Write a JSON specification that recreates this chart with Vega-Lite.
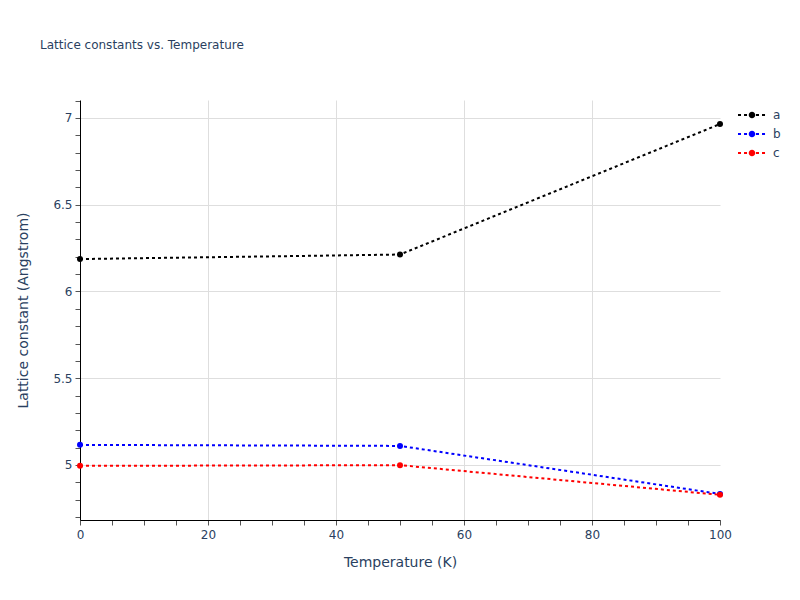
{
  "$schema": "https://vega.github.io/schema/vega-lite/v6.json",
  "autosize": "none",
  "width": 640,
  "height": 420,
  "padding": {"left": 80, "top": 100, "right": 80, "bottom": 80},
  "background": "white",
  "title": {
    "text": "Lattice constants vs. Temperature",
    "anchor": "start",
    "frame": "group",
    "dx": -40,
    "offset": 43,
    "font": "DejaVu Sans",
    "fontSize": 12,
    "fontWeight": "normal",
    "color": "#2a3f5f"
  },
  "config": {
    "view": {"stroke": null},
    "font": "DejaVu Sans"
  },
  "data": {
    "values": [
      {"series": "a", "T": 0, "v": 6.187},
      {"series": "a", "T": 50, "v": 6.213},
      {"series": "a", "T": 100, "v": 6.965},
      {"series": "b", "T": 0, "v": 5.116},
      {"series": "b", "T": 50, "v": 5.11},
      {"series": "b", "T": 100, "v": 4.833},
      {"series": "c", "T": 0, "v": 4.995},
      {"series": "c", "T": 50, "v": 4.999},
      {"series": "c", "T": 100, "v": 4.828}
    ]
  },
  "encoding": {
    "x": {
      "field": "T", "type": "quantitative",
      "scale": {"domain": [0, 100], "nice": false, "zero": false},
      "axis": {
        "title": "Temperature (K)",
        "values": [0,5,10,15,20,25,30,35,40,45,50,55,60,65,70,75,80,85,90,95,100],
        "labelExpr": "datum.value % 20 === 0 ? datum.label : ''",
        "labelOverlap": false,
        "labelFlush": false,
        "grid": true,
        "gridColor": {"condition": {"test": "datum.value % 20 === 0 && datum.value > 0 && datum.value < 100", "value": "#dedede"}, "value": "transparent"},
        "gridWidth": 1,
        "domainColor": "#000000",
        "domainWidth": 1,
        "tickColor": "#555555",
        "tickSize": 5,
        "labelPadding": 4,
        "labelFont": "DejaVu Sans",
        "labelFontSize": 12,
        "labelColor": "#2a3f5f",
        "titleFont": "DejaVu Sans",
        "titleFontSize": 14,
        "titleFontWeight": "normal",
        "titleColor": "#2a3f5f",
        "titlePadding": 15
      }
    },
    "y": {
      "field": "v", "type": "quantitative",
      "scale": {"domain": [4.683, 7.1037], "nice": false, "zero": false},
      "axis": {
        "title": "Lattice constant (Angstrom)",
        "values": [4.7,4.8,4.9,5.0,5.1,5.2,5.3,5.4,5.5,5.6,5.7,5.8,5.9,6.0,6.1,6.2,6.3,6.4,6.5,6.6,6.7,6.8,6.9,7.0,7.1],
        "format": "~g",
        "labelExpr": "round(datum.value * 10) % 5 === 0 ? datum.label : ''",
        "labelOverlap": false,
        "labelFlush": false,
        "grid": true,
        "gridColor": {"condition": {"test": "round(datum.value * 10) % 5 === 0", "value": "#dedede"}, "value": "transparent"},
        "gridWidth": 1,
        "domainColor": "#000000",
        "domainWidth": 1,
        "tickColor": "#555555",
        "tickSize": 5,
        "labelPadding": 3,
        "labelFont": "DejaVu Sans",
        "labelFontSize": 12,
        "labelColor": "#2a3f5f",
        "titleFont": "DejaVu Sans",
        "titleFontSize": 14,
        "titleFontWeight": "normal",
        "titleColor": "#2a3f5f",
        "titlePadding": 22
      }
    },
    "color": {
      "field": "series", "type": "nominal",
      "scale": {"domain": ["a", "b", "c"], "range": ["#000000", "#0000ff", "#ff0000"]},
      "legend": {
        "title": null,
        "orient": "none",
        "legendX": 665,
        "legendY": 8,
        "symbolType": "M-2,-0.14H-1.57V0.14H-2Z M-1.14,-0.14H-0.71V0.14H-1.14Z M-0.29,-0.14H0.14V0.14H-0.29Z M0.57,-0.14H1V0.14H0.57Z M1.43,-0.14H1.86V0.14H1.43Z M0,-0.47A0.47,0.47 0 1,1 0,0.47A0.47,0.47 0 1,1 0,-0.47Z",
        "symbolSize": 196,
        "symbolStrokeWidth": 0,
        "labelOffset": 14,
        "rowPadding": 6,
        "labelFont": "DejaVu Sans",
        "labelFontSize": 12,
        "labelColor": "#2a3f5f",
        "encode": {
          "symbols": {
            "update": {
              "fill": {"scale": "color", "field": "value"},
              "stroke": {"value": "transparent"},
              "opacity": {"value": 1}
            }
          }
        }
      }
    }
  },
  "layer": [
    {"mark": {"type": "line", "strokeDash": [3, 3], "strokeWidth": 2, "clip": false}},
    {"mark": {"type": "point", "filled": true, "size": 36, "opacity": 1, "shape": "circle", "clip": false}}
  ]
}
